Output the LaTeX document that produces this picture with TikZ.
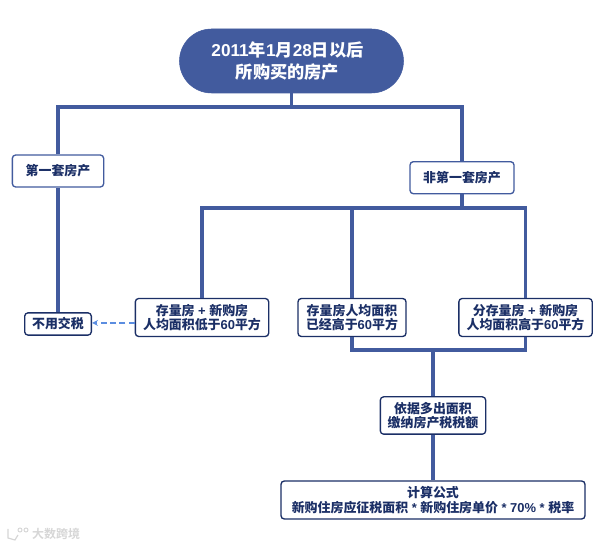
\documentclass[tikz,border=0pt]{standalone}
\usepackage{fontspec}
\setmainfont{Liberation Sans}
\newfontfamily\cjk{Noto Sans CJK SC Bold}
\newcommand{\zh}[1]{{\cjk #1}}
\usepackage{tikz}
\usetikzlibrary{positioning}
\definecolor{barblue}{HTML}{425B9E}
\definecolor{inkblue}{HTML}{1B2F66}
\definecolor{dashblue}{HTML}{5B8DE0}
\definecolor{markgray}{HTML}{D6D6D6}
\begin{document}
\begin{tikzpicture}[%
		x=0.75pt,
		y=-0.75pt,
		>=stealth,
		node distance=1cm,
		rootbox/.style={%
			minimum width=168pt,
			minimum height=48pt,
			rounded corners=24pt,
			fill=barblue,
			draw=barblue,
			text=white,
			align=center,
			inner sep=0pt,
			font=\bfseries\fontsize{12.9pt}{16pt}\selectfont
		},
		itembox/.style={%
			rounded corners=2.5pt,
			draw=inkblue,
			fill=white,
			line width=1pt,
			text=inkblue,
			align=center,
			inner sep=0pt,
			font=\bfseries\fontsize{9.7pt}{11pt}\selectfont
		},
		softbox/.style={%
			itembox,
			draw=barblue,
			minimum height=24pt
		},
		bar/.style={%
			draw=barblue,
			line width=2.4pt
		},
		hint/.style={%
			->,
			dash pattern=on 4.5pt off 2.5pt,
			draw=dashblue,
			line width=1pt
		}
		]
		\useasboundingbox (0,0) rectangle (604,548);
		\node[rootbox] (root) at (291.5,61)                 {2011\zh{年}1\zh{月}28\zh{日以后}\hspace*{6pt}\\\zh{所购买的房产}\hspace*{6pt}};
		\node[softbox,minimum width=68.5pt] (first) at (58,171)  {\zh{第一套房产}};
		\node[softbox,minimum width=78pt] (other) at (462,177.7) {\zh{非第一套房产}};
		\node[itembox,minimum width=100pt,minimum height=28.5pt] (low) at (202,317.5)   {\zh{存量房} + \zh{新购房}\\\zh{人均面积低于}60\zh{平方}};
		\node[itembox,minimum width=81pt,minimum height=28.5pt] (high) at (352,317.5)   {\zh{存量房人均面积}\\\zh{已经高于}60\zh{平方}};
		\node[itembox,minimum width=100pt,minimum height=28.5pt] (split) at (525.5,317.5) {\zh{分存量房} + \zh{新购房}\\\zh{人均面积高于}60\zh{平方}};
		\node[itembox,minimum width=50pt,minimum height=16.7pt] (free) at (58,324)      {\zh{不用交税}};
		\node[itembox,minimum width=79pt,minimum height=28pt] (basis) at (433,415.5)    {\zh{依据多出面积}\\\zh{缴纳房产税税额}};
		\node[itembox,minimum width=228pt,minimum height=28.5pt] (calc) at (433,500)    {\zh{计算公式}\\\zh{新购住房应征税面积} * \zh{新购住房单价} * 70\% * \zh{税率}};
		\node[text=markgray,font=\cjk\fontsize{9pt}{9pt}\selectfont,inner sep=0pt] (mark) at (56,534) {大数跨境};

		\coordinate (upper) at (root.south |- 0,107);
		\coordinate (lower) at (high.north |- 0,208);
		\coordinate (join) at (basis.north |- 0,350);

		\draw[bar] (root.south) -- (upper);
		\draw[bar] (first.north) |- (upper) -| (other.north);
		\draw[bar] (first.south) -- (free.north);
		\draw[bar] (other.south) -- (other.south |- lower);
		\draw[bar] (low.north) |- (lower) -| (split.north);
		\draw[bar] (lower) -- (high.north);
		\draw[bar] (high.south) |- (join) -| (split.south);
		\draw[bar] (join) -- (basis.north);
		\draw[bar] (basis.south) -- (calc.north);
		\draw[hint] (low.west |- 0,323) coordinate (lowend) -- (free.east |- lowend);

		% small logo next to the mark
		\draw[markgray,line width=0.9pt] (8,529) -- (8,538) -- (15,540) -- (18,535);
		\draw[markgray,line width=0.7pt] (20,530) circle (2) (26,530) circle (2);
		\end{tikzpicture}
\end{document}
